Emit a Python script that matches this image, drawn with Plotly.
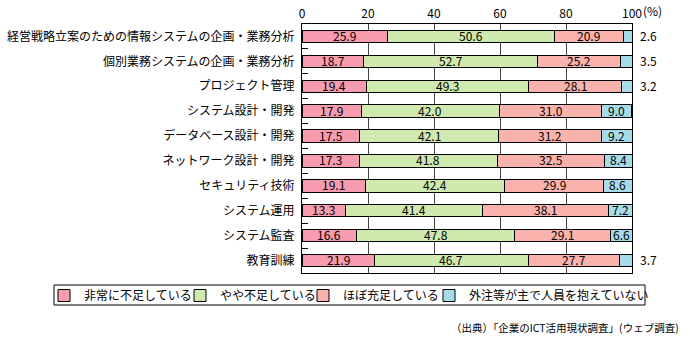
import plotly.graph_objects as go

categories = ["経営戦略立案のための情報システムの企画・業務分析", "個別業務システムの企画・業務分析",
              "プロジェクト管理", "システム設計・開発", "データベース設計・開発", "ネットワーク設計・開発",
              "セキュリティ技術", "システム運用", "システム監査", "教育訓練"]
series_names = ["非常に不足している", "やや不足している", "ほぼ充足している", "外注等が主で人員を抱えていない"]
very_short = [25.9, 18.7, 19.4, 17.9, 17.5, 17.3, 19.1, 13.3, 16.6, 21.9]
somewhat_short = [50.6, 52.7, 49.3, 42.0, 42.1, 41.8, 42.4, 41.4, 47.8, 46.7]
mostly_enough = [20.9, 25.2, 28.1, 31.0, 31.2, 32.5, 29.9, 38.1, 29.1, 27.7]
outsourced = [2.6, 3.5, 3.2, 9.0, 9.2, 8.4, 8.6, 7.2, 6.6, 3.7]
colors = ["#F79BAE", "#CFE9AE", "#F9B3AC", "#A6DCE9"]
tick_vals = [0, 20, 40, 60, 80, 100]
tick_text = ["0", "20", "40", "60", "80", "100"]

FONT = "Noto Sans CJK JP"
PLOT_L, PLOT_R, PLOT_T, PLOT_B = 302, 632, 24, 273
PW, PH = PLOT_R - PLOT_L, PLOT_B - PLOT_T


def px_x(p):
    return (p - PLOT_L) / PW


def px_y(p):
    return (PLOT_B - p) / PH


fig = go.Figure()
all_series = [very_short, somewhat_short, mostly_enough, outsourced]
legend_ids = ["legend2", "legend3", "legend4", "legend5"]
legend_left_px = [44, 180, 303, 429]
for name, vals, col, lid in zip(series_names, all_series, colors, legend_ids):
    fig.add_trace(go.Bar(
        y=categories, x=vals, name=name, orientation="h",
        marker=dict(color=col, line=dict(color="black", width=1)),
        width=0.5, hoverinfo="skip", legend=lid, showlegend=True,
    ))

# value labels centred in each segment (positions from cumulative data)
cum = [0.0] * len(categories)
for s_idx, vals in enumerate(all_series):
    for i, (cat, v) in enumerate(zip(categories, vals)):
        if v >= 5:
            fig.add_annotation(x=cum[i] + v / 2, y=cat, xref="x", yref="y",
                               text=f"{v:.1f}", showarrow=False, yshift=1,
                               font=dict(size=12, color="black", family=FONT))
        else:
            fig.add_annotation(x=100, y=cat, xref="x", yref="y", text=f"{v:.1f}",
                               showarrow=False, xanchor="left", xshift=6, yshift=1,
                               font=dict(size=12, color="black", family=FONT))
        cum[i] += v

fig.add_annotation(x=100, y=1, xref="x", yref="paper", text="(%)", showarrow=False,
                   xanchor="left", yanchor="bottom", xshift=9, yshift=3,
                   font=dict(size=12, color="black", family=FONT))
fig.add_annotation(x=px_x(681), y=px_y(327), xref="paper", yref="paper",
                   text="（出典）「企業のICT活用現状調査」(ウェブ調査)", showarrow=False,
                   xanchor="right", yanchor="middle",
                   font=dict(size=10.5, color="black", family=FONT))

# legend frame
fig.add_shape(type="rect", xref="paper", yref="paper",
              x0=px_x(54), x1=px_x(645), y0=px_y(285), y1=px_y(305),
              line=dict(color="black", width=1), fillcolor="rgba(0,0,0,0)")

legend_common = dict(orientation="h", yanchor="middle", xanchor="left",
                     bgcolor="rgba(0,0,0,0)", borderwidth=0,
                     font=dict(size=12, family=FONT, color="black"), itemwidth=30)
layout_legends = {}
for lid, lx in zip(legend_ids, legend_left_px):
    layout_legends[lid] = dict(legend_common, x=px_x(lx), y=px_y(295.5))

fig.update_layout(
    width=690, height=346, barmode="stack",
    margin=dict(l=PLOT_L, r=690 - PLOT_R, t=PLOT_T, b=346 - PLOT_B, autoexpand=False),
    paper_bgcolor="white", plot_bgcolor="white",
    font=dict(family=FONT, size=12, color="black"),
    xaxis=dict(range=[0, 100], side="top", tickvals=tick_vals, ticktext=tick_text,
               showgrid=True, gridcolor="#444444", gridwidth=1, showline=True,
               linecolor="black", linewidth=1, mirror=True, ticks="", zeroline=False,
               tickfont=dict(size=12, family=FONT)),
    yaxis=dict(autorange="reversed", showline=True, linecolor="black", linewidth=1,
               mirror=True, ticks="inside", ticklen=6, tickcolor="black",
               tickson="boundaries", showgrid=False, ticklabelstandoff=4,
               tickfont=dict(size=12, family=FONT)),
    **layout_legends,
)
fig.write_html("out.html")
